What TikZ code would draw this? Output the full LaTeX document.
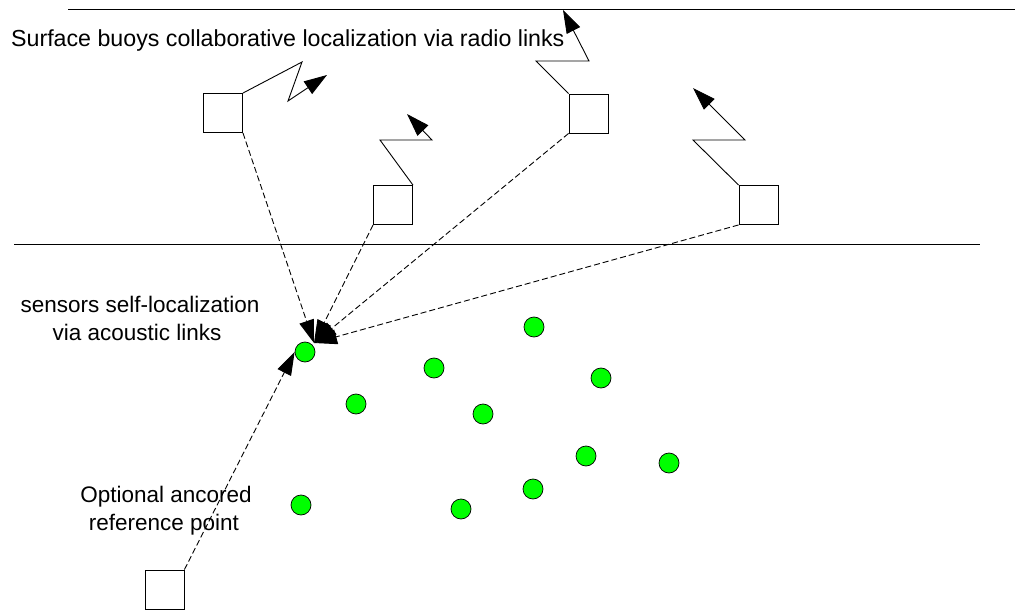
\documentclass[tikz,border=0pt]{standalone}
\usepackage{fontspec}
\setmainfont{Liberation Sans}
\usetikzlibrary{arrows.meta}
\begin{document}
\begin{tikzpicture}[x=1pt,y=-1pt,
  buoy/.style={draw=black,line width=0.9pt,fill=white,minimum size=39pt,inner sep=0pt},
  sensor/.style={circle,draw=black,line width=0.7pt,fill=green,minimum size=20pt,inner sep=0pt},
  radio/.style={line width=0.9pt,-{Triangle[length=23pt,width=15pt]}},
  acoustic/.style={line width=0.9pt,dash pattern=on 6pt off 3pt,-{Triangle[length=23pt,width=15pt]}},
  sep/.style={line width=1pt},
  lbl/.style={font=\fontsize{22.5}{27}\selectfont,inner sep=0pt}]
\useasboundingbox (0,0) rectangle (1018,610);
\fill[white] (0,0) rectangle (1018,610);
% horizontal lines
\coordinate (t1) at (68,10);
\coordinate (t2) at (1015,10);
\coordinate (m1) at (14,244);
\coordinate (m2) at (980,244);
\draw[sep] (t1) -- (t2);
\draw[sep] (m1) -- (m2);
% labels
\node[lbl,font=\fontsize{23.2}{27}\selectfont,anchor=base west] (lsurf) at (11,47) {Surface buoys collaborative localization via radio links};
\node[lbl,anchor=base] (ls1) at (140,312) {sensors self-localization};
\node[lbl,anchor=base] (ls2) at (137,340) {via acoustic links};
\node[lbl,anchor=base] (lo1) at (166,502) {Optional ancored};
\node[lbl,anchor=base] (lo2) at (164,530) {reference point};
% buoys
\node[buoy] (b1) at (223,113) {};
\node[buoy] (b2) at (393,205) {};
\node[buoy] (b3) at (588.5,113.5) {};
\node[buoy] (b4) at (758.5,205) {};
\node[buoy] (anc) at (164.5,589.5) {};
% sensors
\node[sensor] (s1) at (305,352) {};
\node[sensor] (s2) at (534,327) {};
\node[sensor] (s3) at (434,368) {};
\node[sensor] (s4) at (601,378) {};
\node[sensor] (s5) at (356,404) {};
\node[sensor] (s6) at (483,414) {};
\node[sensor] (s7) at (586,456) {};
\node[sensor] (s8) at (669,463) {};
\node[sensor] (s9) at (533,489) {};
\node[sensor] (s10) at (301,505) {};
\node[sensor] (s11) at (461,509) {};
% radio links
\coordinate (r1a) at (302,62);
\coordinate (r1b) at (288,101);
\coordinate (r1c) at (327,75);
\draw[radio] (b1.north east) -- (r1a) -- (r1b) -- (r1c);
\coordinate (r2a) at (380,140);
\coordinate (r2b) at (432,140);
\coordinate (r2c) at (407,114);
\draw[radio] (b2.north east) -- (r2a) -- (r2b) -- (r2c);
\coordinate (r3a) at (536,61);
\coordinate (r3b) at (589,61);
\coordinate (r3c) at (563,10);
\draw[radio] (b3.north west) -- (r3a) -- (r3b) -- (r3c);
\coordinate (r4a) at (693,140);
\coordinate (r4b) at (745,140);
\coordinate (r4c) at (693,88);
\draw[radio] (b4.north west) -- (r4a) -- (r4b) -- (r4c);
% acoustic links
\coordinate (hub) at (314,343);
\draw[acoustic] (b1.south east) -- (hub);
\draw[acoustic] (b2.south west) -- (hub);
\draw[acoustic] (b3.south west) -- (hub);
\draw[acoustic] (b4.south west) -- (hub);
\draw[acoustic] (anc.north east) -- (s1.west);
\end{tikzpicture}
\end{document}
